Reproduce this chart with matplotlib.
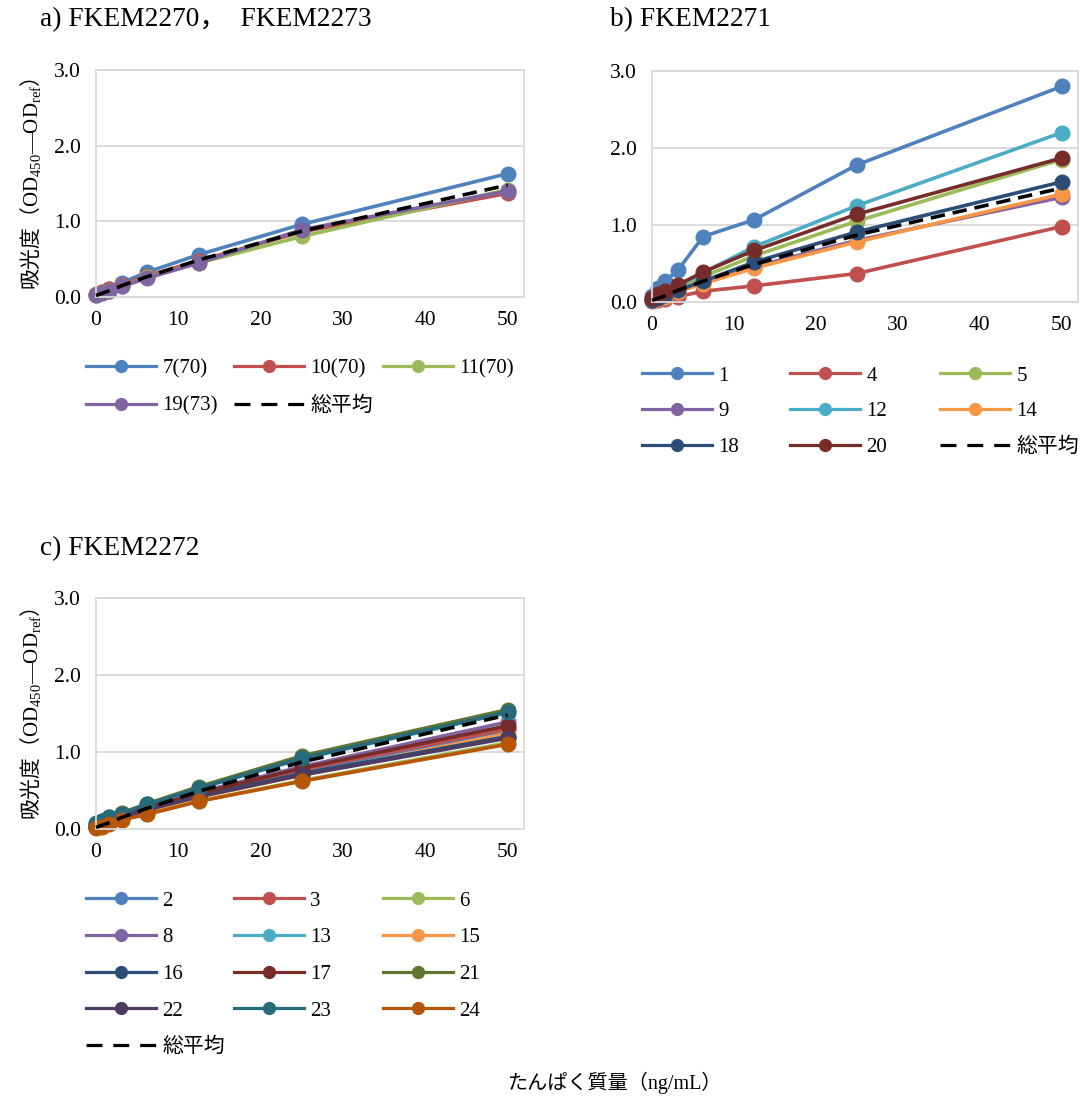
import matplotlib
matplotlib.use('Agg')
import matplotlib.pyplot as plt

plt.rcParams['font.family'] = ['Liberation Serif', 'Noto Sans CJK JP', 'DejaVu Sans']
# mathtext only used for the y label: CJK through rm, latin through sf
plt.rcParams['mathtext.fontset'] = 'custom'
plt.rcParams['mathtext.rm'] = 'Noto Sans CJK JP'
plt.rcParams['mathtext.sf'] = 'Liberation Serif'

# protein concentration (ng/mL)
conc = [0, 0.78, 1.56, 3.13, 6.25, 12.5, 25, 50]

# overall average (dashed line, same in every panel)
avg = [0.02, 0.05, 0.08, 0.15, 0.27, 0.49, 0.87, 1.48]

# a) FKEM2270, FKEM2273
a_labels = ['7(70)', '10(70)', '11(70)', '19(73)']
a_7 = [0.03, 0.06, 0.11, 0.19, 0.33, 0.56, 0.96, 1.63]
a_10 = [0.04, 0.07, 0.10, 0.16, 0.28, 0.48, 0.86, 1.37]
a_11 = [0.02, 0.05, 0.08, 0.14, 0.26, 0.45, 0.80, 1.42]
a_19 = [0.02, 0.05, 0.08, 0.14, 0.25, 0.45, 0.89, 1.40]

# b) FKEM2271
b_labels = ['1', '4', '5', '9', '12', '14', '18', '20']
b_1 = [0.08, 0.18, 0.27, 0.41, 0.85, 1.07, 1.78, 2.80]
b_4 = [0.01, 0.02, 0.04, 0.07, 0.14, 0.21, 0.37, 0.98]
b_5 = [0.02, 0.05, 0.10, 0.18, 0.33, 0.60, 1.05, 1.85]
b_9 = [0.02, 0.04, 0.07, 0.13, 0.25, 0.46, 0.80, 1.36]
b_12 = [0.02, 0.06, 0.11, 0.20, 0.38, 0.72, 1.25, 2.20]
b_14 = [0.02, 0.04, 0.07, 0.13, 0.24, 0.44, 0.78, 1.40]
b_18 = [0.03, 0.05, 0.09, 0.15, 0.27, 0.52, 0.91, 1.56]
b_20 = [0.05, 0.10, 0.14, 0.22, 0.39, 0.67, 1.14, 1.87]

# c) FKEM2272
c_labels = ['2', '3', '6', '8', '13', '15', '16', '17', '21', '22', '23', '24']
c_2 = [0.04, 0.07, 0.11, 0.17, 0.29, 0.45, 0.75, 1.28]
c_3 = [0.03, 0.06, 0.10, 0.16, 0.28, 0.45, 0.77, 1.30]
c_6 = [0.02, 0.05, 0.08, 0.12, 0.20, 0.36, 0.63, 1.12]
c_8 = [0.03, 0.06, 0.10, 0.17, 0.29, 0.48, 0.81, 1.39]
c_13 = [0.06, 0.10, 0.14, 0.20, 0.32, 0.53, 0.91, 1.51]
c_15 = [0.03, 0.05, 0.09, 0.14, 0.24, 0.41, 0.70, 1.24]
c_16 = [0.04, 0.07, 0.11, 0.16, 0.26, 0.43, 0.72, 1.20]
c_17 = [0.03, 0.06, 0.10, 0.16, 0.28, 0.46, 0.79, 1.34]
c_21 = [0.07, 0.11, 0.15, 0.21, 0.33, 0.55, 0.95, 1.55]
c_22 = [0.03, 0.06, 0.10, 0.15, 0.25, 0.42, 0.70, 1.18]
c_23 = [0.08, 0.11, 0.15, 0.20, 0.32, 0.53, 0.92, 1.52]
c_24 = [0.01, 0.03, 0.07, 0.12, 0.19, 0.36, 0.62, 1.10]

colors = ['#4F81BD', '#C0504D', '#9BBB59', '#8064A2', '#4BACC6', '#F79646',
          '#2C4D75', '#772C2A', '#5F7530', '#4D3B62', '#276A7C', '#B65708']

W, H = 1083, 1099
fig = plt.figure(figsize=(W / 100, H / 100), dpi=100)

ylab = r'$\mathrm{吸光度（}\mathsf{OD_{450}}\mathsf{—}\mathsf{OD_{ref}}\mathrm{）}$'


def px(x0, y0, x1, y1):
    return (x0 / W, 1 - y1 / H, (x1 - x0) / W, (y1 - y0) / H)


def panel(rect, series, labels, title, title_xy, show_ylabel):
    ax = fig.add_axes(px(*rect))
    lines = []
    for i, (ys, lab) in enumerate(zip(series, labels)):
        ln, = ax.plot(conc, ys, color=colors[i], lw=2.6, marker='o', ms=10.5,
                      label=lab, zorder=2 + i * 0.01)
        lines.append(ln)
    ln, = ax.plot(conc, avg, color='black', lw=2.6, ls=(0, (4, 2.2)),
                  label='総平均', zorder=5)
    lines.append(ln)
    ax.set_xlim(0, 52)
    ax.set_ylim(0, 3.0)
    ax.set_xticks([0, 10, 20, 30, 40, 50])
    ax.set_yticks([0, 1, 2, 3])
    ax.set_yticklabels(['0.0', '1.0', '2.0', '3.0'])
    ax.grid(axis='y', color='#D9D9D9', lw=1.3)
    ax.set_axisbelow(True)
    for s in ax.spines.values():
        s.set_color('#D9D9D9')
        s.set_linewidth(1.3)
    ax.tick_params(length=0, labelsize=15.5, pad=10)
    ax.tick_params(axis='y', pad=11)
    for l in lines:
        l.set_clip_on(False)
    if show_ylabel:
        ax.set_ylabel(ylab, fontsize=15, labelpad=8)
    fig.text(title_xy[0] / W, 1 - title_xy[1] / H, title, fontsize=19.7,
             ha='left', va='center')
    return lines


def legend_cols(lines, col_x, y_top, row_gap):
    for c in range(3):
        hs = lines[c::3]
        if not hs:
            continue
        leg = fig.legend(handles=hs, loc='upper left',
                         bbox_to_anchor=(col_x[c] / W, 1 - y_top / H),
                         frameon=False, fontsize=15, handlelength=3.36,
                         handletextpad=0.3, labelspacing=row_gap, borderpad=0,
                         borderaxespad=0)
        for h in leg.legend_handles:
            h.set_markersize(8.5)
            h.set_linewidth(2.3)
            if h.get_label() == '総平均' or h.get_marker() in ('None', None, ''):
                pass
        for h, src in zip(leg.legend_handles, hs):
            if src.get_label() == '総平均':
                h.set_linestyle((0, (5, 3.4)))


la = panel((96, 70, 524, 297), [a_7, a_10, a_11, a_19], a_labels,
           'a) FKEM2270，  FKEM2273', (40, 20), True)
legend_cols(la, [86, 234, 383], 359, 0.85)

lb = panel((652, 71, 1078, 302), [b_1, b_4, b_5, b_9, b_12, b_14, b_18, b_20],
           b_labels, 'b) FKEM2271', (610, 20), False)
legend_cols(lb, [642, 790, 940], 366, 0.78)

lc = panel((96, 598, 524, 829),
           [c_2, c_3, c_6, c_8, c_13, c_15, c_16, c_17, c_21, c_22, c_23, c_24],
           c_labels, 'c) FKEM2272', (40, 549), True)
legend_cols(lc, [86, 234, 383], 891, 0.82)

fig.text(615 / W, 1 - 1083 / H, 'たんぱく質量（ng/mL）', fontsize=14.5,
         ha='center', va='center')

fig.savefig('out.png', dpi=100)
